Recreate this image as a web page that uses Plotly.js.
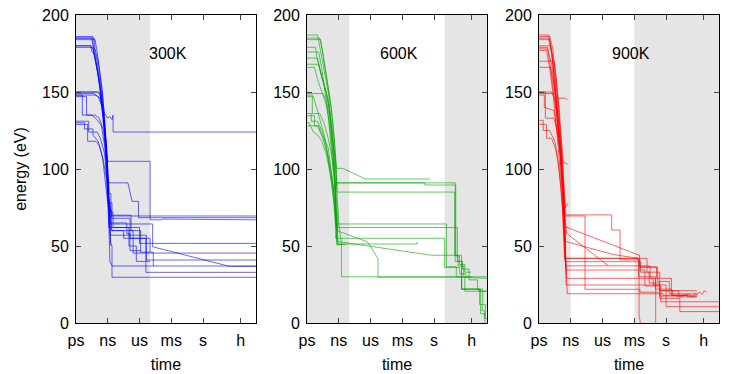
<!DOCTYPE html>
<html>
<head>
<meta charset="utf-8">
<script src="https://cdn.plot.ly/plotly-3.0.1.min.js"></script>
<style>
  body { margin: 0; background: #fff; }
  #plot { width: 747px; height: 374px; }
</style>
</head>
<body>
<div id="plot"></div>
<script>
// time is log10(seconds); ps .. h
const tickVals = [-12, -9, -6, -3, 0, 3.556];
const tickText = ["ps", "ns", "us", "ms", "s", "h"];
const tempLabels = ["300K", "600K", "900K"];

// shaded time windows per panel [from, to]
const shade300 = [[-12, -5.0]];
const shade600 = [[-12, -8.0], [1.0, 5]];
const shade900 = [[-12, -9.0], [-3.0, 5]];

// 300K trajectories
const blueT = [
  [-12,-10.3,-9.9,-9.5,-9.3,-9.0,-8.8,-8.6,-8.5,-8.5,5],
  [-12,-10.3,-10.2,-9.9,-9.5,-9.2,-9.0,-8.8,-5.0,-5.0,-4.0,-3.8,5],
  [-12,-10.5,-10.4,-10.1,-9.7,-9.3,-9.15,-9.05,-8.9,-7.1,-6.7,-6.1,-6.1,5],
  [-12,-10.2,-10.0,-9.6,-9.3,-9.1,-8.95,-8.85,-4.76,-4.76,2.5,5],
  [-12,-10.6,-10.4,-10.0,-9.6,-9.2,-9.0,-8.9,-8.8,5],
  [-12,-10.4,-10.3,-9.8,-9.4,-9.1,-8.95,-8.7,-8.5,-8.5,-6.0,-6.0,5],
  [-12,-10.0,-9.7,-9.4,-9.2,-9.0,-8.9,-8.6,-6.6,-6.6,5],
  [-12,-9.8,-9.5,-9.2,-9.0,-8.85,-8.75,-5.35,-5.35,5],
  [-12,-11.4,-11.4,-10.5,-10.0,-9.6,-9.3,-9.05,-8.9,-8.6,-6.9,-6.9,-5.4,-5.4,5],
  [-12,-10.2,-9.7,-9.4,-9.2,-9.0,-8.8,-8.6,5],
  [-12,-11.0,-11.0,-10.2,-9.8,-9.4,-9.1,-8.95,-8.75,-8.6,-8.6,5],
  [-12,-10.8,-10.8,-10.0,-9.7,-9.3,-9.1,-8.95,-8.6,-8.6,-6.8,-6.8,-5.9,-5.9,-4.7,-4.7],
  [-12,-10.9,-10.9,-10.1,-9.8,-9.4,-9.15,-9.0,-8.9,-7.0,-7.0,-6.3,-6.3,-5.0],
  [-12,-11.2,-11.2,-10.4,-10.4,-9.9,-9.5,-9.2,-9.0,-8.8,-8.7,-8.7,-7.2,-7.2,-6.9,-6.9,-5.9],
  [-12,-10.4,-10.4,-10.0,-9.6,-9.3,-9.0,-8.85,-8.7,-8.7,-7.5,-7.5,-5.0,-5.0],
  [-12,-10.6,-10.5,-10.3,-9.9,-9.5,-9.2,-9.0,-8.9,-8.7]
];
const blueE = [
  [149,149,147,140,136,133,134,132,135,124,124],
  [185,185,178,170,150,125,105,105,105,67,67,67.5,67],
  [185,185,180,170,150,122,110,95,91,91,79,79,68.4,68.4],
  [184,184,176,155,134,108,85,64.3,64.3,49.5,36.8,36.8],
  [180,180,178,165,148,120,95,75,69.5,69.5],
  [179,179,175,158,135,110,86,72,72,62,62,51.7,51.7],
  [150,150,148,136,118,95,78,60,60,45.4,45.4],
  [150,150,140,120,100,75,57,57,40.9,40.9],
  [148,148,135,135,132,128,115,95,80,68,68,55,55,32.9,32.9],
  [148,148,146,133,115,90,40,37,37],
  [147,147,135,135,133,125,105,80,52,50,29.7,29.7],
  [131,131,124,124,120,110,95,78,78,70,70,60,60,46,46,37],
  [129,129,118,118,115,105,95,80,62,62,50,50,40,40],
  [130,130,126,126,122,118,108,92,78,73,73,65,65,58,58,47,47],
  [186,186,182,170,150,128,100,84,84,60,60,55,55,46],
  [180,180,176,175,160,140,115,90,70,50]
];

// 600K trajectories
const greenT = [
  [-12,-11.0,-10.6,-10.3,-9.95,-9.8,-9.6,-9.3,-9.2,-8.6,-6.5,-0.4],
  [-12,-10.8,-10.5,-10.2,-9.9,-9.7,-9.5,-9.3,-9.2,-0.9,-0.85,2.05,2.05,2.4,2.4,2.9,2.9,3.5],
  [-12,-10.7,-10.4,-10.1,-9.85,-9.6,-9.4,-9.25,-9.15,1.95,1.95,2.6,2.6,4.3,4.3,4.55,4.55,4.75,4.75,5],
  [-12,-11.2,-11.0,-10.6,-10.2,-9.9,-9.6,-9.4,-9.3,1.17,1.17,2.1,2.1,2.6,2.6,4.2,4.2,5],
  [-12,-11.0,-10.7,-10.3,-10.0,-9.7,-9.45,-9.3,-9.2,-6.3,-5.3,-5.3,2.2,5],
  [-12,-10.9,-10.6,-10.2,-9.9,-9.6,-9.3,-9.0,-8.75,-8.75,1.8,1.8,2.9,2.9,5],
  [-12,-11.3,-11.0,-10.6,-10.2,-9.9,-9.6,-9.35,-9.2,-0.26,2.26,2.26,2.8,2.8,3.6],
  [-12,-10.5,-10.2,-9.9,-9.7,-9.5,-9.3,-9.1,-1.6,-1.6],
  [-12,-11.5,-11.5,-10.8,-10.4,-10.0,-9.7,-9.4,-9.1,-9.1,2.2,2.2,2.6,2.6,4.4,4.4,4.8,4.8],
  [-12,-11.6,-11.6,-11.0,-10.6,-10.3,-10.0,-9.75,-9.5,-9.3,-9.2,-9.2,-8.3],
  [-12,-11.3,-11.3,-10.9,-10.5,-10.1,-9.8,-9.5,-9.3,-9.3,1.0,1.0,2.4,2.4,3.0,3.0,5],
  [-12,-11.8,-11.4,-11.0,-10.6,-10.2,-9.9,-9.6,-9.4,-9.25,-9.1],
  [-12,-11.0,-10.7,-10.35,-10.0,-9.7,-9.45,-9.2,-9.05],
  [-12,-11.4,-11.1,-10.7,-10.3,-10.0,-9.7,-9.5,-9.35,-9.2],
  [-12,-10.9,-10.6,-10.3,-10.0,-9.8,-9.55,-9.35,-9.15,2.0,2.0,2.7,2.7,3.3,3.3,4.1,4.1,4.6,4.6,4.85,4.85]
];
const greenE = [
  [187,187,172,160,148,135,118,105,100.4,100.4,93.5,93.5],
  [185,185,175,162,150,140,125,108,91,91,89.6,89.6,43.5,43.5,38,38,33,33],
  [184,184,170,158,146,132,118,100,85,85,44,44,22,22,12,12,8,8,3,3],
  [179,179,170,160,150,138,120,100,64.3,64.3,36.6,36.6,30,30,22,22,21,20.5],
  [172,172,162,152,145,128,110,90,60,52.7,42,29.8,29.8,29],
  [168,168,160,150,140,125,100,65,51,30,30,30,30,20.6,20.6],
  [166,166,158,150,142,130,112,90,53,44,44,37,37,30,30],
  [149,149,145,135,122,105,80,51.3,51.3,52.5],
  [148,148,136,136,130,120,110,95,70,62,62,40,40,22,22,6,6,-5],
  [136,136,131,131,125,118,108,95,80,62,62,51,51],
  [134.6,134.6,128,128,120,110,98,88,75,55,55,36,36,32,32,30,30],
  [130,130,124,122,118,110,100,88,76,68,60],
  [128,128,123,119,114,100,85,70,50],
  [147,147,140,130,120,108,98,85,72,60],
  [176,176,165,150,135,120,100,86,91,91,40,40,35,35,28,28,22,22,12,12,4]
];

// 900K trajectories
const redT = [
  [-12,-11.05,-10.74,-10.43,-10.27,-10.1,-9.8,-9.64,-9.48,-9.39,-5.14,-5.14,-4.35,-4.35,-2.47,-2.47,-0.9,-0.9,0.5,0.5,2.9],
  [-12,-11.1,-10.8,-10.5,-10.3,-10.05,-9.85,-9.7,-9.66,-7.66,-7.66,-2.47,-2.47,-0.6,-0.6,1.0,1.0,2.9],
  [-12,-11.0,-10.7,-10.4,-10.15,-9.95,-9.75,-9.6,-9.39,-5.46],
  [-12,-11.2,-10.9,-10.6,-10.3,-10.05,-9.8,-9.55,-2.62,-2.5,-2.5,-0.8,-0.8,0.3,0.3,2.9,3.2,3.4,3.6,3.83],
  [-12,-11.3,-11.0,-10.7,-10.4,-10.1,-9.85,-9.7,-9.6,-2.55,-2.55,-2.3],
  [-12,-10.9,-10.6,-10.3,-10.05,-9.85,-9.7,-9.55,-2.4,-2.4,-1.6,-1.6,-0.6,-0.6,1.3,1.3,5],
  [-12,-10.8,-10.5,-10.2,-9.95,-9.75,-9.6,-9.5,-1.5,-1.5,-0.98,-0.98],
  [-12,-11.5,-11.5,-10.6,-10.3,-10.0,-9.8,-9.6,-9.45,-2.0,-2.0,-0.5,-0.5,5],
  [-12,-10.5,-10.2,-9.5,-9.3],
  [-12,-11.6,-11.6,-11.0,-10.5,-10.2,-9.95,-9.75,-9.55,-9.4,-1.2,-1.2,0.0,0.0,5],
  [-12,-11.3,-11.3,-10.8,-10.4,-10.1,-9.85,-9.65,-9.45,-9.33,-0.3,-0.3,2.0,2.0,2.9],
  [-12,-11.0,-10.7,-10.4,-10.15,-9.9,-9.7,-9.55,-9.45,-0.6,-0.6,0.6,0.6,2.9],
  [-12,-10.9,-10.6,-10.3,-10.0,-9.8,-9.65,-9.5,-9.25],
  [-12,-10.6,-10.4,-10.1,-9.9,-9.7,-9.55,-9.3],
  [-12,-11.4,-11.4,-10.6,-10.3,-10.0,-9.75,-9.6,-9.5,-1.8,-1.8,-0.6,-0.6,1.2,1.2,2.1,2.5,2.8,3.0],
  [-12,-11.2,-10.8,-10.5,-10.2,-9.95,-9.7,-9.5,-5.0,-2.6,-2.6,-1.0,-1.0,0.5,0.5,2.0]
];
const redE = [
  [187,187,172,148,129,116,96,79,70.2,70.2,70.2,60.4,60.4,41,41,36.6,36.6,29,29,21,21],
  [185,185,175,155,135,118,100,85,69.5,69.5,21.9,21.9,20,20,17.5,17.5,17,17],
  [184,184,170,150,130,110,90,72,58.2,37.1],
  [179,179,165,150,132,112,90,62.6,44.2,44.2,36,36,27,27,19,19,20,18.5,21,20],
  [177,177,166,150,130,108,88,60,42,42,5,-5],
  [166,166,155,140,122,105,85,39.8,39.8,33,33,26,26,16,16,7.4,7.4],
  [150,150,145,133,115,95,75,37.1,37.1,29,29,-5],
  [148,148,140,138,125,110,90,60,34.4,34.4,24,24,13.8,13.8],
  [149,149,146,146,145],
  [131.6,131.6,125,125,118,105,88,70,45,29,29,24.7,24.7,10.6,10.6],
  [129,129,120,120,112,100,82,65,40,19,19,18,18,17,17],
  [186,186,178,160,140,118,95,70,24.7,24.7,21,21,18,18],
  [180,180,170,148,125,105,88,75,78],
  [170,170,160,140,120,104,104,103],
  [150,150,133,133,125,112,95,70,42,42,33,33,21,21,17,18.5,17,19,18],
  [178,178,168,150,130,108,80,53,44.5,42,30,30,22,22,18,18]
];

const panels = [
  {T: blueT, E: blueE, color: "rgba(0,0,255,0.6)", shade: shade300},
  {T: greenT, E: greenE, color: "rgba(0,165,0,0.6)", shade: shade600},
  {T: redT, E: redE, color: "rgba(255,0,0,0.6)", shade: shade900}
];

const domains = [[0, 0.2799], [0.3593, 0.6392], [0.7201, 1]];
const fnt = {family: "Liberation Sans, Arial, sans-serif", size: 16, color: "#000"};

let data = [];
let shapes = [];
let annotations = [];
let layout = {
  width: 747, height: 374,
  margin: {l: 76, r: 28, t: 15, b: 51},
  paper_bgcolor: "#fff", plot_bgcolor: "#fff",
  showlegend: false,
  font: fnt
};

panels.forEach(function(p, i) {
  let sx = i == 0 ? "" : String(i + 1);
  p.T.forEach(function(t, k) {
    data.push({x: t, y: p.E[k], xaxis: "x" + sx, yaxis: "y" + sx,
      mode: "lines", line: {color: p.color, width: 1}, hoverinfo: "skip"});
  });
  p.shade.forEach(function(s) {
    shapes.push({type: "rect", xref: "x" + sx, yref: "y" + sx, x0: s[0], x1: s[1], y0: 0, y1: 200,
      fillcolor: "#e5e5e5", line: {width: 0}, layer: "below"});
  });
  annotations.push({xref: "x" + sx, yref: "y" + sx, x: -3.3, y: 175, text: tempLabels[i],
    showarrow: false, font: fnt});
  layout["xaxis" + sx] = {
    domain: domains[i], anchor: "y" + sx, range: [-12, 5],
    tickvals: tickVals, ticktext: tickText, ticks: "inside", ticklen: 5,
    showline: true, linecolor: "#000", linewidth: 1, mirror: "ticks",
    showgrid: false, zeroline: false, tickfont: fnt, ticklabelstandoff: 3,
    title: {text: "time", font: fnt, standoff: 10}
  };
  layout["yaxis" + sx] = {
    anchor: "x" + sx, range: [0, 200], dtick: 50, ticks: "inside", ticklen: 5,
    showline: true, linecolor: "#000", linewidth: 1, mirror: "ticks",
    showgrid: false, zeroline: false, tickfont: fnt, ticklabelstandoff: 3,
    title: i == 0 ? {text: "energy (eV)", font: fnt, standoff: 11} : {text: ""}
  };
});
layout.shapes = shapes;
layout.annotations = annotations;

Plotly.newPlot("plot", data, layout, {displayModeBar: false, staticPlot: true});
</script>
</body>
</html>
